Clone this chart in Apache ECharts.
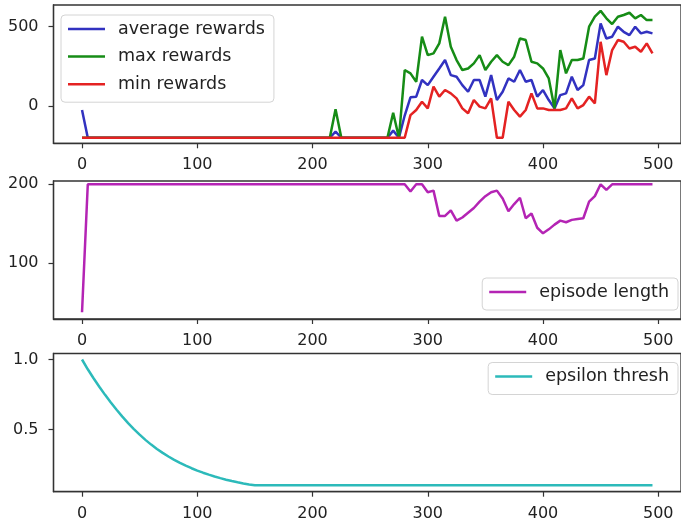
<!DOCTYPE html>
<html>
<head>
<meta charset="utf-8">
<script src="https://cdn.jsdelivr.net/npm/echarts@6/dist/echarts.min.js"></script>
<style>
  html, body { margin: 0; padding: 0; background: #ffffff; }
  #chart { width: 681px; height: 522px; }
</style>
</head>
<body>
<div id="chart"></div>
<script>
// Training episodes (evaluated every 5 episodes)
const episodes = [
  0, 5, 10, 15, 20, 25, 30, 35, 40, 45, 50, 55, 60, 65, 70, 75, 80, 85, 90, 95,
  100, 105, 110, 115, 120, 125, 130, 135, 140, 145, 150, 155, 160, 165, 170, 175, 180, 185, 190, 195,
  200, 205, 210, 215, 220, 225, 230, 235, 240, 245, 250, 255, 260, 265, 270, 275, 280, 285, 290, 295,
  300, 305, 310, 315, 320, 325, 330, 335, 340, 345, 350, 355, 360, 365, 370, 375, 380, 385, 390, 395,
  400, 405, 410, 415, 420, 425, 430, 435, 440, 445, 450, 455, 460, 465, 470, 475, 480, 485, 490, 495
];

const avgRewards = [
  -25, -200, -200, -200, -200, -200, -200, -200, -200, -200, -200, -200, -200, -200, -200, -200, -200, -200, -200, -200,
  -200, -200, -200, -200, -200, -200, -200, -200, -200, -200, -200, -200, -200, -200, -200, -200, -200, -200, -200, -200,
  -200, -200, -200, -200, -162, -200, -200, -200, -200, -200, -200, -200, -200, -200, -155, -200, -60, 55, 59, 164,
  132, 185, 237, 290, 195, 185, 132, 90, 164, 164, 59, 195, 38, 90, 174, 153, 227, 153, 164, 59,
  101, 38, -15, 69, 80, 185, 101, 132, 290, 300, 521, 426, 437, 500, 468, 447, 500, 458, 468, 458
];

const maxRewards = [
  -200, -200, -200, -200, -200, -200, -200, -200, -200, -200, -200, -200, -200, -200, -200, -200, -200, -200, -200, -200,
  -200, -200, -200, -200, -200, -200, -200, -200, -200, -200, -200, -200, -200, -200, -200, -200, -200, -200, -200, -200,
  -200, -200, -200, -200, -21, -200, -200, -200, -200, -200, -200, -200, -200, -200, -42, -200, 227, 206, 153, 437,
  321, 332, 395, 563, 374, 290, 227, 237, 269, 321, 227, 279, 321, 279, 258, 311, 426, 416, 279, 269,
  237, 174, -15, 353, 206, 290, 290, 300, 500, 563, 600, 553, 517, 563, 574, 588, 553, 574, 542, 542
];

const minRewards = [
  -200, -200, -200, -200, -200, -200, -200, -200, -200, -200, -200, -200, -200, -200, -200, -200, -200, -200, -200, -200,
  -200, -200, -200, -200, -200, -200, -200, -200, -200, -200, -200, -200, -200, -200, -200, -200, -200, -200, -200, -200,
  -200, -200, -200, -200, -200, -200, -200, -200, -200, -200, -200, -200, -200, -200, -200, -200, -200, -57, -25, 27,
  -15, 122, 59, 101, 80, 48, -15, -46, 38, -4, -15, 48, -200, -200, 27, -25, -67, -25, 80, -15,
  -15, -25, -25, -25, -15, 48, -15, 6, 59, 17, 405, 195, 353, 416, 405, 363, 374, 342, 395, 332
];

const episodeLength = [
  38, 200, 200, 200, 200, 200, 200, 200, 200, 200, 200, 200, 200, 200, 200, 200, 200, 200, 200, 200,
  200, 200, 200, 200, 200, 200, 200, 200, 200, 200, 200, 200, 200, 200, 200, 200, 200, 200, 200, 200,
  200, 200, 200, 200, 200, 200, 200, 200, 200, 200, 200, 200, 200, 200, 200, 200, 200, 191, 200, 200,
  190, 192, 160, 160, 167, 154, 158, 164, 170, 178, 185, 190, 192, 182, 166, 175, 183, 157, 163, 145,
  138, 143, 149, 154, 152, 155, 156, 157, 178, 185, 200, 193, 200, 200, 200, 200, 200, 200, 200, 200
];

const epsilonThresh = [
  1.000, 0.930, 0.866, 0.805, 0.747, 0.692, 0.640, 0.591, 0.545, 0.502, 0.462, 0.425, 0.391, 0.360, 0.332, 0.306, 0.282, 0.260, 0.240, 0.222,
  0.205, 0.190, 0.176, 0.163, 0.151, 0.140, 0.130, 0.121, 0.113, 0.106, 0.100, 0.100, 0.100, 0.100, 0.100, 0.100, 0.100, 0.100, 0.100, 0.100,
  0.100, 0.100, 0.100, 0.100, 0.100, 0.100, 0.100, 0.100, 0.100, 0.100, 0.100, 0.100, 0.100, 0.100, 0.100, 0.100, 0.100, 0.100, 0.100, 0.100,
  0.100, 0.100, 0.100, 0.100, 0.100, 0.100, 0.100, 0.100, 0.100, 0.100, 0.100, 0.100, 0.100, 0.100, 0.100, 0.100, 0.100, 0.100, 0.100, 0.100,
  0.100, 0.100, 0.100, 0.100, 0.100, 0.100, 0.100, 0.100, 0.100, 0.100, 0.100, 0.100, 0.100, 0.100, 0.100, 0.100, 0.100, 0.100, 0.100, 0.100
];

// Tick positions for each axis
const xTicks = [0, 100, 200, 300, 400, 500];
const rewardTicks = [0, 500];
const lengthTicks = [100, 200];
const epsilonTicks = [0.5, 1.0];

const FONT = 'DejaVu Sans';
const TEXT = '#222222';
const FRAME = '#333333';

const pairs = (ys) => episodes.map((x, i) => [x, ys[i]]);

function xAxisFor(idx) {
  return {
    type: 'value', gridIndex: idx, min: -24.75, max: 519.75,
    axisLine: { show: true, onZero: false, lineStyle: { color: FRAME, width: 1.3 } },
    axisTick: { show: true, length: 5, customValues: xTicks, lineStyle: { color: FRAME, width: 1.2 } },
    axisLabel: { customValues: xTicks, fontFamily: FONT, fontSize: 16, color: TEXT, margin: 14 },
    splitLine: { show: false }
  };
}

function yAxisFor(idx, min, max, ticks, fmt) {
  return {
    type: 'value', gridIndex: idx, min: min, max: max,
    axisLine: { show: true, onZero: false, lineStyle: { color: FRAME, width: 1.3 } },
    axisTick: { show: true, length: 5, customValues: ticks, lineStyle: { color: FRAME, width: 1.2 } },
    axisLabel: { customValues: ticks, fontFamily: FONT, fontSize: 16, color: TEXT, margin: 15, formatter: fmt },
    splitLine: { show: false }
  };
}

function lineSeries(name, data, color, idx) {
  return {
    name: name, type: 'line', xAxisIndex: idx, yAxisIndex: idx,
    data: data, symbol: 'none', smooth: false,
    lineStyle: { color: color, width: 2.5 },
    itemStyle: { color: color },
    emphasis: { disabled: true }
  };
}

// Legend handles are thin bars centred on each label
function legendBox(names, pos) {
  return Object.assign({
    data: names, orient: 'vertical', selectedMode: false,
    icon: 'rect', itemWidth: 37, itemHeight: 2.5, itemGap: 9.6,
    padding: [5, 9, 9, 7],
    backgroundColor: 'rgba(255,255,255,0.85)',
    borderColor: '#d4d4d4', borderWidth: 1, borderRadius: 4,
    textStyle: { fontFamily: FONT, fontSize: 17.5, color: TEXT, lineHeight: 17, padding: [0, 0, 0, 8] }
  }, pos);
}

const gridBase = { left: 53.5, width: 633, show: true, borderColor: FRAME, borderWidth: 1.3, backgroundColor: '#ffffff' };

const option = {
  animation: false,
  backgroundColor: '#ffffff',
  grid: [
    Object.assign({ top: 5, height: 138.3 }, gridBase),
    Object.assign({ top: 181, height: 138 }, gridBase),
    Object.assign({ top: 353.5, height: 138.2 }, gridBase)
  ],
  xAxis: [xAxisFor(0), xAxisFor(1), xAxisFor(2)],
  yAxis: [
    yAxisFor(0, -235, 637, rewardTicks),
    yAxisFor(1, 29.5, 204.2, lengthTicks),
    yAxisFor(2, 0.054, 1.043, epsilonTicks, (v) => v.toFixed(1))
  ],
  legend: [
    legendBox(['average rewards', 'max rewards', 'min rewards'], { left: 61, top: 15 }),
    legendBox(['episode length'], { right: 3, top: 278 }),
    legendBox(['epsilon thresh'], { right: 3, top: 362.5 })
  ],
  series: [
    lineSeries('average rewards', pairs(avgRewards), '#3232c0', 0),
    lineSeries('max rewards', pairs(maxRewards), '#168c16', 0),
    lineSeries('min rewards', pairs(minRewards), '#e42222', 0),
    lineSeries('episode length', pairs(episodeLength), '#b424b4', 1),
    lineSeries('epsilon thresh', pairs(epsilonThresh), '#2cbaba', 2)
  ]
};

const chart = echarts.init(document.getElementById('chart'), null, { renderer: 'canvas' });
chart.setOption(option);
</script>
</body>
</html>
